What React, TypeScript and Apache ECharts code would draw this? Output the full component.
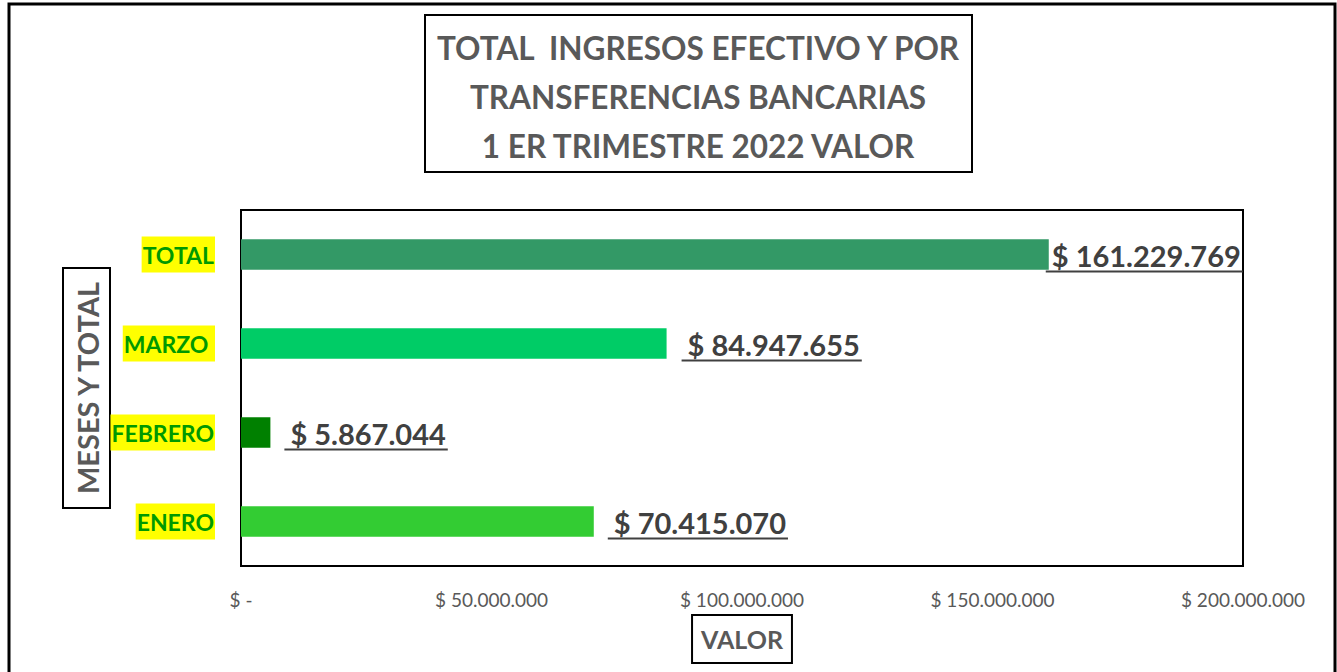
import React, { useEffect, useRef } from "react";
import * as echarts from "echarts";

const categories = ["ENERO", "FEBRERO", "MARZO ", "TOTAL"];
const values = [70415070, 5867044, 84947655, 161229769];
const barColors = ["#33cc33", "#008000", "#00cc66", "#339966"];
const labelDx = [14, 14, 15, -3];
const titleLines = ["TOTAL  INGRESOS EFECTIVO Y POR", "TRANSFERENCIAS BANCARIAS", "1 ER TRIMESTRE 2022 VALOR"];
const yAxisTitle = "MESES Y TOTAL";
const xAxisTitle = "VALOR";

const FONT = "Lato, 'Noto Sans', sans-serif";
const LABEL_SIZE = 29;

function dots(v: number): string {
  return Math.round(v).toString().replace(/\B(?=(\d{3})+(?!\d))/g, ".");
}

let ctx: CanvasRenderingContext2D | null = null;
function measure(t: string): number {
  if (!ctx) ctx = document.createElement("canvas").getContext("2d");
  if (!ctx) return t.length * 15;
  ctx.font = `bold ${LABEL_SIZE}px Lato`;
  return ctx.measureText(t).width;
}

export default function App() {
  const ref = useRef<HTMLDivElement>(null);
  useEffect(() => {
    if (!ref.current) return;
    const chart = echarts.init(ref.current, null, { renderer: "svg" });
    chart.setOption({
      animation: false,
      backgroundColor: "#ffffff",
      grid: {
        show: true,
        left: 241,
        top: 210,
        right: 94,
        bottom: 106,
        borderColor: "#000000",
        borderWidth: 2,
        containLabel: false,
      },
      graphic: [
        {
          type: "rect",
          shape: { x: 9, y: 4, width: 1326, height: 700 },
          style: { fill: "none", stroke: "#000000", lineWidth: 3 },
          z: 100,
        },
        {
          type: "rect",
          shape: { x: 425, y: 15, width: 547, height: 157 },
          style: { fill: "#ffffff", stroke: "#000000", lineWidth: 2 },
        },
        {
          type: "text",
          x: 698,
          y: 97,
          style: {
            text: titleLines.join("\n"),
            font: `bold 31.5px ${FONT}`,
            fill: "#595959",
            align: "center",
            verticalAlign: "middle",
            lineHeight: 49,
          },
        },
        {
          type: "rect",
          shape: { x: 63, y: 268, width: 47, height: 240 },
          style: { fill: "#ffffff", stroke: "#000000", lineWidth: 2 },
        },
        {
          type: "text",
          x: 87,
          y: 388,
          rotation: Math.PI / 2,
          style: {
            text: yAxisTitle,
            font: `bold 29px ${FONT}`,
            fill: "#595959",
            align: "center",
            verticalAlign: "middle",
          },
        },
      ],
      xAxis: {
        type: "value",
        min: 0,
        max: 200000000,
        interval: 50000000,
        axisLine: { show: false },
        axisTick: { show: false },
        splitLine: { show: false },
        axisLabel: {
          margin: 24,
          color: "#595959",
          fontFamily: FONT,
          fontSize: 19,
          formatter: (v: number) => (v === 0 ? "$ -" : "$ " + dots(v)),
        },
        name: xAxisTitle,
        nameLocation: "middle",
        nameGap: 47,
        nameTextStyle: {
          color: "#595959",
          fontFamily: FONT,
          fontWeight: "bold",
          fontSize: 25,
          lineHeight: 28,
          borderColor: "#000000",
          borderWidth: 2,
          padding: [10, 9, 10, 9],
          verticalAlign: "top",
        },
      },
      yAxis: {
        type: "category",
        data: categories,
        axisLine: { show: false },
        axisTick: { show: false },
        axisLabel: {
          margin: 26,
          color: "#009900",
          fontFamily: FONT,
          fontWeight: "bold",
          fontSize: 23,
          backgroundColor: "#ffff00",
          padding: [6, 1, 6, 1],
          lineHeight: 24,
        },
      },
      series: [
        {
          type: "bar",
          barWidth: "34%",
          data: values.map((v, i) => ({ value: v, itemStyle: { color: barColors[i] } })),
        },
        {
          type: "custom",
          data: values.map((v, i) => [v, i]),
          encode: { x: 0, y: 1 },
          z: 10,
          renderItem: (params: any, api: any) => {
            const idx = params.dataIndex;
            const v = api.value(0);
            const p = api.coord([v, api.value(1)]);
            const x0 = p[0] + labelDx[idx];
            const text = "$ " + dots(v);
            const w = measure(text);
            return {
              type: "group",
              children: [
                {
                  type: "text",
                  x: x0 + 6,
                  y: p[1] + 1,
                  style: {
                    text,
                    font: `bold ${LABEL_SIZE}px ${FONT}`,
                    fill: "#404040",
                    align: "left",
                    verticalAlign: "middle",
                  },
                },
                {
                  type: "line",
                  shape: { x1: x0, y1: p[1] + 17, x2: x0 + w + 8, y2: p[1] + 17 },
                  style: { stroke: "#404040", lineWidth: 2 },
                },
              ],
            };
          },
        },
      ],
    });
    return () => chart.dispose();
  }, []);
  return (
    <div
      ref={ref}
      style={{ position: "fixed", left: 0, top: 0, width: 1337, height: 672 }}
    />
  );
}
